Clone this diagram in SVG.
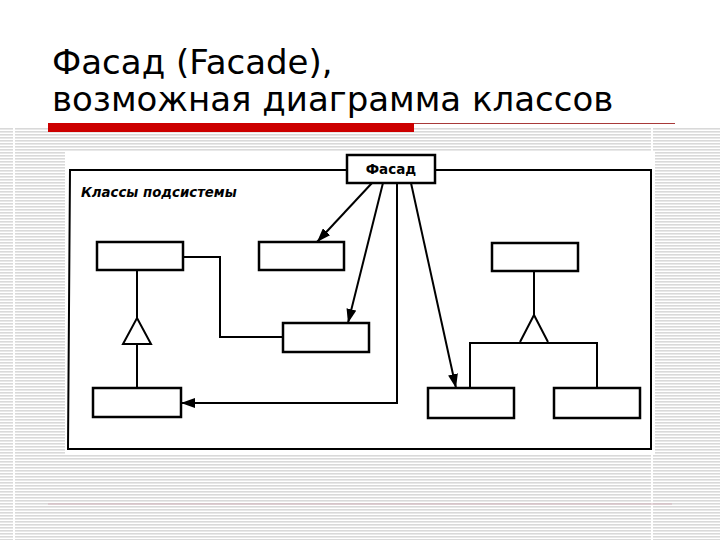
<svg xmlns="http://www.w3.org/2000/svg" width="720" height="540" viewBox="0 0 720 540">
<defs>
<pattern id="stripes" patternUnits="userSpaceOnUse" width="720" height="3" x="0" y="128">
<rect x="0" y="0" width="720" height="1.6" fill="#d9d9d9"/>
</pattern>
<marker id="arrow" markerUnits="userSpaceOnUse" markerWidth="14" markerHeight="10" refX="14" refY="5" orient="auto" viewBox="0 0 14 10">
<path d="M0,0 L14,5 L0,10 z" fill="#000"/>
</marker>
<style>
.title{font-family:"DejaVu Sans",sans-serif;font-size:34px;fill:#000}
.box{fill:#fff;stroke:#000;stroke-width:2.5}
.conn{fill:none;stroke:#000;stroke-width:2}
.gen{fill:#fff;stroke:#000;stroke-width:2;stroke-linejoin:miter}
.lbl{font-family:"DejaVu Sans",sans-serif;font-weight:bold;fill:#000}
</style>
</defs>
<rect x="0" y="0" width="720" height="540" fill="#fff"/>
<rect x="0" y="128" width="720" height="412" fill="url(#stripes)"/>
<rect x="13" y="128" width="2" height="412" fill="#fff"/>
<rect x="651" y="128" width="2" height="412" fill="#fff"/>
<line x1="48" y1="504" x2="672" y2="504" stroke="#d2b2ba" stroke-width="1.2"/>
<text class="title" x="52" y="74">Фасад (Facade),</text>
<text class="title" x="52" y="111">возможная диаграмма классов</text>
<line x1="414" y1="123.5" x2="675" y2="123.5" stroke="#a83a3a" stroke-width="1.2"/>
<rect x="48" y="123" width="366" height="9" fill="#cc0000"/>
<rect x="65" y="152" width="590" height="303" fill="#fff"/>
<g id="subsystem">
<path d="M347,170 L70,170 L68,449 L651,449 L651,170 L435,170" fill="none" stroke="#000" stroke-width="2"/>
<text class="lbl" x="81" y="197" font-size="13.3" font-style="italic">Классы подсистемы</text>
</g>
<g id="connectors">
<polyline class="conn" points="183,257 220,257 220,337 283,337"/>
<line class="conn" x1="137" y1="270" x2="137" y2="318"/>
<polygon class="gen" points="137,318 151,344 123,344"/>
<line class="conn" x1="137" y1="344" x2="137" y2="388"/>
<line class="conn" x1="534" y1="271" x2="534" y2="315"/>
<polyline class="conn" points="520,342 534,315 548,342"/>
<polyline class="conn" points="470,388 470,343 597,343 597,388"/>
<line class="conn" x1="372" y1="183" x2="317" y2="242" marker-end="url(#arrow)"/>
<line class="conn" x1="383" y1="183" x2="348" y2="323" marker-end="url(#arrow)"/>
<polyline class="conn" points="397,183 397,403 181,403" marker-end="url(#arrow)"/>
<line class="conn" x1="411" y1="183" x2="456" y2="388" marker-end="url(#arrow)"/>
</g>
<g id="facade">
<rect class="box" x="347" y="155" width="88" height="28"/>
<text class="lbl" x="391" y="173.5" font-size="13.5" text-anchor="middle">Фасад</text>
</g>
<g id="class1"><rect class="box" x="97" y="242" width="86" height="28"/></g>
<g id="class2"><rect class="box" x="259" y="242" width="85" height="28"/></g>
<g id="class3"><rect class="box" x="492" y="243" width="86" height="28"/></g>
<g id="class4"><rect class="box" x="283" y="323" width="86" height="29"/></g>
<g id="class5"><rect class="box" x="93" y="388" width="88" height="29"/></g>
<g id="class6"><rect class="box" x="428" y="388" width="86" height="30"/></g>
<g id="class7"><rect class="box" x="554" y="388" width="86" height="30"/></g>
</svg>
